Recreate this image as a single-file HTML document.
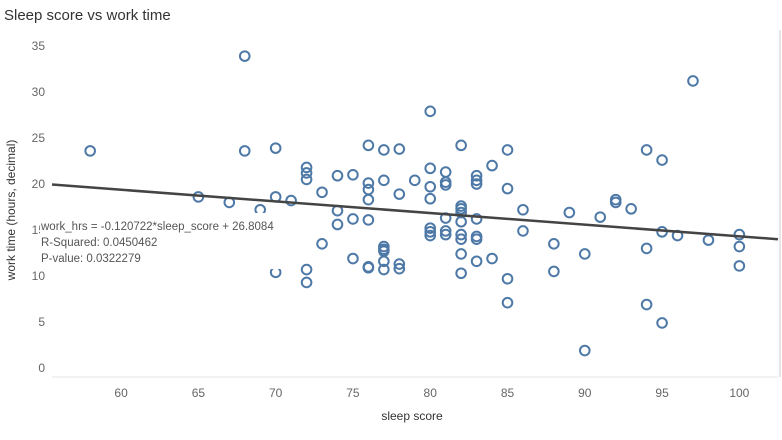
<!DOCTYPE html>
<html><head><meta charset="utf-8"><style>
body{margin:0;background:#fff;font-family:"Liberation Sans",sans-serif}
</style></head><body>
<svg id="chart" width="782" height="435" xmlns="http://www.w3.org/2000/svg" font-family="Liberation Sans, sans-serif">
<text x="4" y="20" font-size="15" fill="#333">Sleep score vs work time</text>
<g id="axes"></g><g id="pts"></g><g id="ann"></g>
<text transform="translate(15,210) rotate(-90)" text-anchor="middle" font-size="12" fill="#333">work time (hours, decimal)</text>
<text x="412" y="420" text-anchor="middle" font-size="12" fill="#333">sleep score</text>
</svg>
<script>
const xs=[58,68,68,70,72,72,72,74,75,76,76,76,76,77,77,78,78,79,65,67,69,70,71,73,74,74,75,76,73,77,77,77,75,77,77,76,76,78,78,70,72,72,
80,80,80,80,80,80,80,81,81,81,81,81,81,82,82,82,82,82,82,82,82,82,83,83,83,83,83,83,83,84,84,85,85,85,85,86,86,88,88,89,90,90,91,92,92,93,94,94,94,95,95,95,96,97,98,100,100,100];
const ys=[23.6,33.9,23.6,23.9,21.8,21.2,20.5,20.9,21.0,24.2,20.1,19.4,18.3,23.7,20.4,23.8,18.9,20.4,18.6,18.0,17.2,18.6,18.2,19.1,17.1,15.6,16.2,16.1,13.5,13.2,12.9,12.7,11.9,11.6,10.7,11.0,10.9,11.3,10.8,10.4,10.7,9.3,
27.9,21.7,19.7,18.4,15.2,14.8,14.4,21.3,20.2,19.9,16.3,14.9,14.5,24.2,17.3,16.9,15.9,14.5,14.0,12.4,10.3,17.6,20.9,20.4,20.0,16.2,14.3,14.0,11.6,22.0,11.9,23.7,19.5,9.7,7.1,17.2,14.9,13.5,10.5,16.9,12.4,1.9,16.4,18.3,18.0,17.3,23.7,13.0,6.9,22.6,14.8,4.9,14.4,31.2,13.9,14.5,13.2,11.1];
const xTicks=[60,65,70,75,80,85,90,95,100];
const yTicks=[0,5,10,15,20,25,30,35];
const slope=-0.120722, intercept=26.8084;
const X0=52,X1=778,XMIN=55.53,XMAX=102.5,Y0=368,YK=9.2;
const sx=v=>X0+(v-XMIN)*(X1-X0)/(XMAX-XMIN);
const sy=v=>Y0-v*YK;
const NS='http://www.w3.org/2000/svg';
function mk(t,a,p){const e=document.createElementNS(NS,t);for(const k in a)e.setAttribute(k,a[k]);p.appendChild(e);return e;}
const ax=document.getElementById('axes');
let l=mk('line',{x1:X0,x2:X1,y1:377,y2:377,stroke:'#e6e6e6'},ax);


l=mk('line',{x1:780,x2:780,y1:30,y2:377,stroke:'#ccc'},ax);


xTicks.forEach(v=>{const t=mk('text',{x:sx(v),y:397,'text-anchor':'middle','font-size':12,fill:'#666'},ax);t.textContent=v;

});
yTicks.forEach(v=>{const t=mk('text',{x:45,y:sy(v)+4,'text-anchor':'end','font-size':12,fill:'#666'},ax);t.textContent=v;

});
const pg=document.getElementById('pts');
xs.forEach((x,i)=>{const c=mk('circle',{cx:sx(x),cy:sy(ys[i]),r:4.8,fill:'none',stroke:'#4e79a7','stroke-width':2},pg);

});
const tl=mk('line',{x1:X0,y1:sy(slope*XMIN+intercept)+1.5,x2:X1,y2:sy(slope*XMAX+intercept)+4,stroke:'#444','stroke-width':2.5},pg);


const an=document.getElementById('ann');
const bx=mk('rect',{x:40,y:213,width:250,height:56,fill:'#fff'},an);


['work_hrs = -0.120722*sleep_score + 26.8084','R-Squared: 0.0450462','P-value: 0.0322279'].forEach((s,i)=>{const t=mk('text',{x:41,y:230+i*16,'font-size':11.5,fill:'#555'},an);t.textContent=s;

});
</script>
</body></html>
